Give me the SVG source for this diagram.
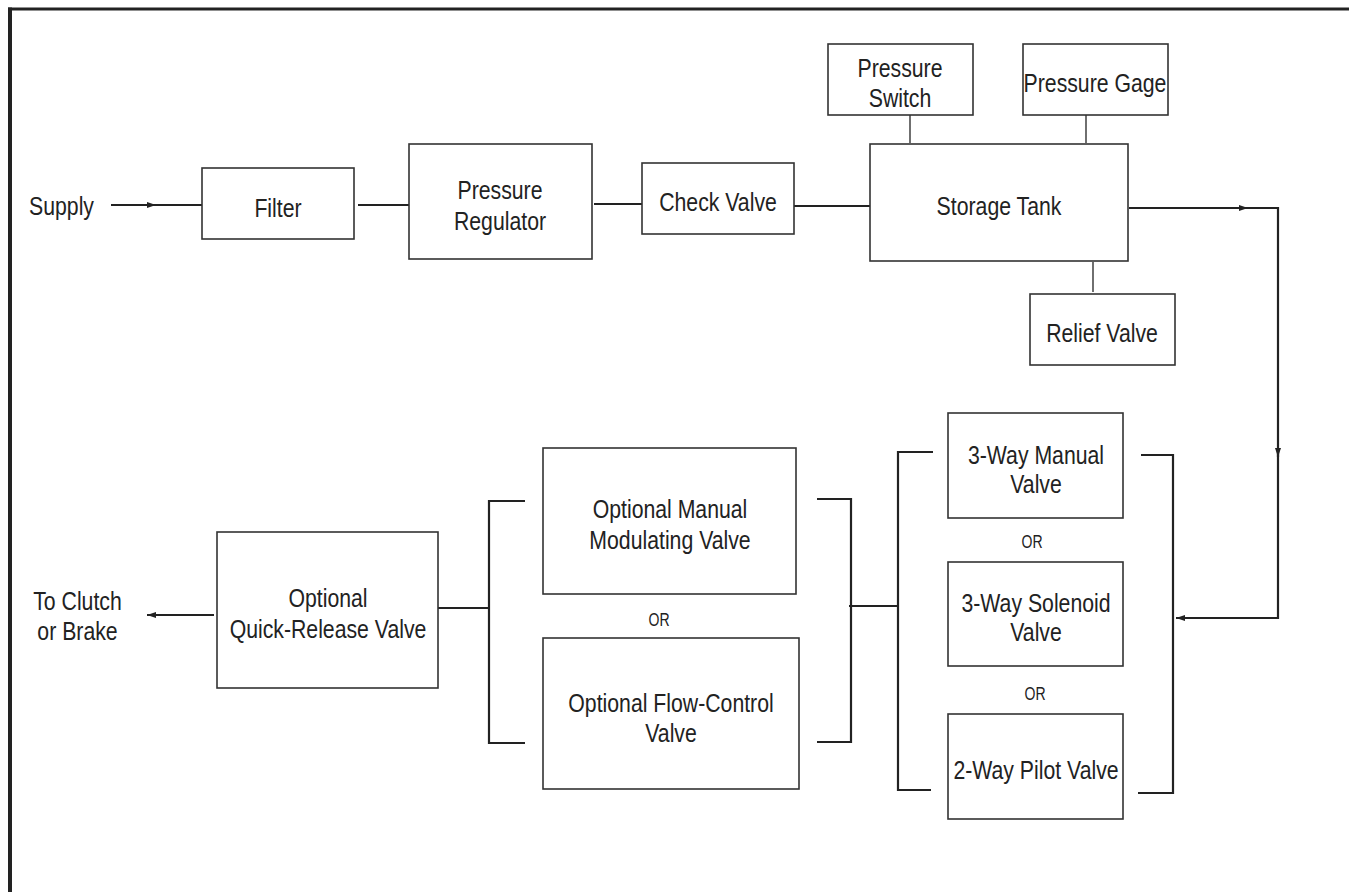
<svg xmlns="http://www.w3.org/2000/svg" width="1349" height="892" viewBox="0 0 1349 892">
<style>
.box{fill:#fff;stroke:#333;stroke-width:1.6}
.t{font-family:"Liberation Sans",Arial,sans-serif;font-size:25px;fill:#222;text-anchor:middle}
.or{font-family:"Liberation Sans",Arial,sans-serif;font-size:18px;fill:#222;text-anchor:middle}
.c{fill:none;stroke:#222;stroke-width:2.2}
.thin{fill:none;stroke:#333;stroke-width:1.4}
.frame{fill:none;stroke:#222}
</style>
<defs>
<marker id="ah" markerWidth="10" markerHeight="8" refX="9" refY="4" orient="auto" markerUnits="userSpaceOnUse">
<path d="M0,1 L9,4 L0,7 Z" fill="#222"/>
</marker>
</defs>
<rect width="1349" height="892" fill="#fff"/>
<g id="frame">
<line class="frame" x1="8" y1="9" x2="1349" y2="9" stroke-width="3"/>
<line class="frame" x1="10" y1="7.5" x2="10" y2="892" stroke-width="4"/>
</g>
<g id="connectors">
<path class="c" d="M111 205 H156" marker-end="url(#ah)"/>
<path class="c" d="M150 205 H202"/>
<path class="c" d="M358 205 H409"/>
<path class="c" d="M594 204 H642"/>
<path class="c" d="M794 206 H870"/>
<path class="thin" d="M910 115 V143"/>
<path class="thin" d="M1086 115 V143"/>
<path class="thin" d="M1093 262 V292"/>
<path class="c" d="M1129 208 H1248" marker-end="url(#ah)"/>
<path class="c" d="M1242 208 H1278 V457" marker-end="url(#ah)"/>
<path class="c" d="M1278 451 V618 H1176" marker-end="url(#ah)"/>
<path class="c" d="M1141 455 H1173 V793 H1138"/>
<path class="c" d="M933 452 H898 V790 H931"/>
<path class="c" d="M849 606 H898"/>
<path class="c" d="M817 499 H851 V742 H817"/>
<path class="c" d="M525 501 H489 V743 H525"/>
<path class="c" d="M438 608 H489"/>
<path class="c" d="M214 615 H147" marker-end="url(#ah)"/>
</g>
<g id="supply"><text class="t" transform="translate(61.5,0) scale(0.85,1)" x="0" y="215">Supply</text></g>
<g id="filter"><rect class="box" x="202" y="168" width="152" height="71"/><text class="t" transform="translate(278,0) scale(0.85,1)" x="0" y="217">Filter</text></g>
<g id="pressure-regulator"><rect class="box" x="409" y="144" width="183" height="115"/><text class="t" transform="translate(500,0) scale(0.85,1)" x="0"><tspan x="0" y="199">Pressure</tspan><tspan x="0" y="230">Regulator</tspan></text></g>
<g id="check-valve"><rect class="box" x="642" y="163" width="152" height="71"/><text class="t" transform="translate(718,0) scale(0.85,1)" x="0" y="211">Check Valve</text></g>
<g id="storage-tank"><rect class="box" x="870" y="144" width="258" height="117"/><text class="t" transform="translate(999,0) scale(0.85,1)" x="0" y="215">Storage Tank</text></g>
<g id="pressure-switch"><rect class="box" x="828" y="44" width="145" height="71"/><text class="t" transform="translate(900,0) scale(0.85,1)" x="0"><tspan x="0" y="77">Pressure</tspan><tspan x="0" y="107">Switch</tspan></text></g>
<g id="pressure-gage"><rect class="box" x="1023" y="44" width="145" height="71"/><text class="t" transform="translate(1095,0) scale(0.85,1)" x="0" y="92">Pressure Gage</text></g>
<g id="relief-valve"><rect class="box" x="1030" y="294" width="145" height="71"/><text class="t" transform="translate(1102,0) scale(0.85,1)" x="0" y="342">Relief Valve</text></g>
<g id="three-way-manual"><rect class="box" x="948" y="413" width="175" height="105"/><text class="t" transform="translate(1036,0) scale(0.85,1)" x="0"><tspan x="0" y="464">3-Way Manual</tspan><tspan x="0" y="493">Valve</tspan></text></g>
<g id="or1"><text class="or" transform="translate(1032,0) scale(0.78,1)" x="0" y="548">OR</text></g>
<g id="three-way-solenoid"><rect class="box" x="948" y="562" width="175" height="104"/><text class="t" transform="translate(1036,0) scale(0.85,1)" x="0"><tspan x="0" y="612">3-Way Solenoid</tspan><tspan x="0" y="641">Valve</tspan></text></g>
<g id="or2"><text class="or" transform="translate(1035,0) scale(0.78,1)" x="0" y="700">OR</text></g>
<g id="two-way-pilot"><rect class="box" x="948" y="714" width="175" height="105"/><text class="t" transform="translate(1036,0) scale(0.85,1)" x="0" y="779">2-Way Pilot Valve</text></g>
<g id="manual-modulating"><rect class="box" x="543" y="448" width="253" height="146"/><text class="t" transform="translate(670,0) scale(0.85,1)" x="0"><tspan x="0" y="518">Optional Manual</tspan><tspan x="0" y="549">Modulating Valve</tspan></text></g>
<g id="or3"><text class="or" transform="translate(659,0) scale(0.78,1)" x="0" y="626">OR</text></g>
<g id="flow-control"><rect class="box" x="543" y="638" width="256" height="151"/><text class="t" transform="translate(671,0) scale(0.85,1)" x="0"><tspan x="0" y="712">Optional Flow-Control</tspan><tspan x="0" y="742">Valve</tspan></text></g>
<g id="quick-release"><rect class="box" x="217" y="532" width="221" height="156"/><text class="t" transform="translate(328,0) scale(0.85,1)" x="0"><tspan x="0" y="607">Optional</tspan><tspan x="0" y="638">Quick-Release Valve</tspan></text></g>
<g id="to-clutch"><text class="t" transform="translate(77.5,0) scale(0.85,1)" x="0"><tspan x="0" y="610">To Clutch</tspan><tspan x="0" y="640">or Brake</tspan></text></g>
</svg>
